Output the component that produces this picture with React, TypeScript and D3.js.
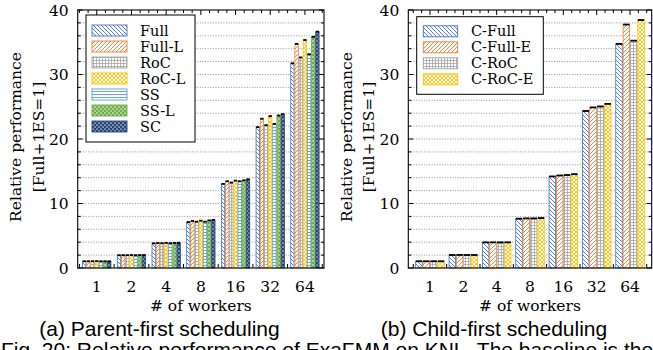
import * as d3 from "d3"

const workers = ["1", "2", "4", "8", "16", "32", "64"]

// (a) parent-first scheduling
const parentSeries = ["Full", "Full-L", "RoC", "RoC-L", "SS", "SS-L", "SC"]
const full = [1.0, 1.93, 3.78, 7.08, 13.0, 21.8, 31.7]
const fullL = [1.0, 1.95, 3.83, 7.24, 13.4, 23.1, 34.7]
const roc = [1.0, 1.94, 3.8, 7.13, 13.2, 22.1, 32.6]
const rocL = [1.02, 1.96, 3.84, 7.29, 13.5, 23.5, 35.3]
const ss = [1.0, 1.94, 3.8, 7.13, 13.4, 22.3, 33.1]
const ssL = [1.0, 1.96, 3.84, 7.33, 13.55, 23.6, 35.8]
const sc = [1.0, 1.97, 3.86, 7.4, 13.7, 23.8, 36.6]

// (b) child-first scheduling
const childSeries = ["C-Full", "C-Full-E", "C-RoC", "C-RoC-E"]
const cFull = [1.0, 1.97, 3.93, 7.6, 14.15, 24.3, 34.7]
const cFullE = [1.0, 1.98, 3.93, 7.65, 14.3, 24.85, 37.7]
const cRoc = [1.0, 1.97, 3.93, 7.65, 14.37, 25.0, 35.2]
const cRocE = [1.0, 1.97, 3.93, 7.7, 14.5, 25.4, 38.4]

const yMajor = [0, 10, 20, 30, 40]

const kinds: Record<string, { color: string; type: string }> = {
  full: { color: "#4472C4", type: "nw" },
  fullL: { color: "#ED7D31", type: "ne" },
  roc: { color: "#A5A5A5", type: "grid" },
  rocL: { color: "#FFC000", type: "cross" },
  ss: { color: "#5B9BD5", type: "hlines" },
  ssL: { color: "#70AD47", type: "dots" },
  sc: { color: "#264478", type: "ovals" },
}

const serif = "'DejaVu Serif', serif"
const sans = "'Liberation Sans', Arial, sans-serif"

function PatternDef({ name }: { name: string }) {
  const { color, type } = kinds[name]
  const id = `pat-${name}`
  if (type === "nw" || type === "ne" || type === "cross") {
    const nw = "M-1,-1L5,5M-1,3L1,5M3,-1L5,1"
    const ne = "M-1,5L5,-1M-1,1L1,-1M3,5L5,3"
    const d = type === "nw" ? nw : type === "ne" ? ne : nw + ne
    return (
      <pattern id={id} width={4} height={4} patternUnits="userSpaceOnUse">
        <rect width={4} height={4} fill="white" />
        <path d={d} stroke={color} strokeWidth={0.9} fill="none" />
      </pattern>
    )
  }
  if (type === "grid") {
    return (
      <pattern id={id} width={3} height={3} patternUnits="userSpaceOnUse">
        <rect width={3} height={3} fill="white" />
        <path d="M0,0.5H3M0.5,0V3" stroke={color} strokeWidth={0.8} fill="none" />
      </pattern>
    )
  }
  if (type === "hlines") {
    return (
      <pattern id={id} width={3} height={3} patternUnits="userSpaceOnUse">
        <rect width={3} height={3} fill="white" />
        <path d="M0,1.5H3" stroke={color} strokeWidth={0.9} fill="none" />
      </pattern>
    )
  }
  if (type === "dots") {
    return (
      <pattern id={id} width={4} height={4} patternUnits="userSpaceOnUse">
        <rect width={4} height={4} fill={color} />
        <circle cx={1} cy={1} r={0.8} fill="white" />
        <circle cx={3} cy={3} r={0.8} fill="white" />
      </pattern>
    )
  }
  return (
    <pattern id={id} width={4} height={4} patternUnits="userSpaceOnUse">
      <rect width={4} height={4} fill={color} />
      <ellipse cx={1} cy={1} rx={1} ry={0.55} fill="white" />
      <ellipse cx={3} cy={3} rx={1} ry={0.55} fill="white" />
    </pattern>
  )
}

interface PanelProps {
  left: number
  right: number
  pad: number
  spread: number
  series: string[]
  keys: string[]
  values: number[][]
  legend: { x: number; y: number; w: number; h: number; sx: number; sw: number; tx: number; row0: number }
  caption: string
  captionX: number
}

function Panel({ left, right, pad, spread, series, keys, values, legend, caption, captionX }: PanelProps) {
  const top = 10
  const bottom = 268
  const x = d3.scaleLinear().domain([-pad, workers.length - 1 + pad]).range([left, right])
  const y = d3.scaleLinear().domain([0, 40]).range([bottom, top])
  const step = x(1) - x(0)
  const inner = d3.scaleBand().domain(series).range([-step * spread, step * spread])
  const bw = inner.bandwidth()

  const yMinor = d3.range(0, 41, 2)
  const xMinor = d3.range(-2, (workers.length - 1) * 4 + 3).map((i) => i / 4)
  const xBounds = d3.range(-1, workers.length).map((i) => i + 0.5)
  const midY = 137

  return (
    <g>
      {/* grid */}
      {yMinor
        .filter((v) => v > 0 && v < 40)
        .map((v) => (
          <line key={"g" + v} x1={left} x2={right} y1={y(v)} y2={y(v)} stroke="#777" strokeWidth={0.8} strokeDasharray="1,1.6" />
        ))}

      {/* bars */}
      {series.map((s, si) =>
        values[si].map((v, gi) => {
          const bx = x(gi) + (inner(s) as number)
          return (
            <g key={s + gi}>
              <rect x={bx + 0.4} y={y(v)} width={bw - 0.8} height={bottom - y(v)} fill={`url(#pat-${keys[si]})`} stroke={kinds[keys[si]].color} strokeWidth={0.8} />
              <line x1={bx + 0.4} x2={bx + bw - 0.4} y1={y(v) - 0.3} y2={y(v) - 0.3} stroke="black" strokeWidth={1.8} />
            </g>
          )
        })
      )}

      {/* frame */}
      <rect x={left} y={top} width={right - left} height={bottom - top} fill="none" stroke="black" strokeWidth={1.1} />

      {/* y ticks both sides */}
      {yMinor.map((v) => {
        const len = v % 10 === 0 ? 5 : 3
        return (
          <g key={"yt" + v}>
            <line x1={left} x2={left + len} y1={y(v)} y2={y(v)} stroke="black" strokeWidth={1} />
            <line x1={right} x2={right - len} y1={y(v)} y2={y(v)} stroke="black" strokeWidth={1} />
          </g>
        )
      })}
      {yMajor.map((v) => (
        <text key={"yl" + v} x={left - 9} y={y(v) + 5.5} textAnchor="end" fontFamily={serif} fontSize={15.5}>
          {v}
        </text>
      ))}

      {/* top ticks */}
      {xMinor.map((v) => {
        const len = Number.isInteger(v) ? 5 : 3
        return <line key={"xt" + v} x1={x(v)} x2={x(v)} y1={top} y2={top + len} stroke="black" strokeWidth={1} />
      })}
      {/* bottom ticks between groups */}
      {xBounds.map((v) => (
        <line key={"xb" + v} x1={x(v)} x2={x(v)} y1={bottom} y2={bottom - 4} stroke="black" strokeWidth={1} />
      ))}
      {workers.map((w, i) => (
        <text key={"xl" + w} x={x(i)} y={291.5} textAnchor="middle" fontFamily={serif} fontSize={15.5}>
          {w}
        </text>
      ))}
      <text x={(left + right) / 2} y={311} textAnchor="middle" fontFamily={serif} fontSize={15.5}>
        # of workers
      </text>

      {/* y title */}
      <text transform={`translate(${left - 56.5},${midY}) rotate(-90)`} textAnchor="middle" fontFamily={serif} fontSize={15.5}>
        Relative performance
      </text>
      <text transform={`translate(${left - 34},${midY}) rotate(-90)`} textAnchor="middle" fontFamily={serif} fontSize={15.5}>
        [Full+1ES=1]
      </text>

      {/* legend */}
      <rect x={legend.x} y={legend.y} width={legend.w} height={legend.h} fill="white" stroke="black" strokeWidth={1} />
      {series.map((s, si) => {
        const cy = legend.row0 + si * 16
        return (
          <g key={"lg" + s}>
            <rect x={legend.sx} y={cy - 5.5} width={legend.sw} height={11} fill={`url(#pat-${keys[si]})`} stroke={kinds[keys[si]].color} strokeWidth={0.9} />
            <text x={legend.tx} y={cy + 5} fontFamily={serif} fontSize={14.5}>
              {s}
            </text>
          </g>
        )
      })}

      <text x={captionX} y={336} textAnchor="middle" fontFamily={sans} fontSize={21}>
        {caption}
      </text>
    </g>
  )
}

export default function App() {
  return (
    <svg width={653} height={350} style={{ position: "absolute", left: 0, top: 0, background: "white" }}>
      <defs>
        {Object.keys(kinds).map((k) => (
          <PatternDef key={k} name={k} />
        ))}
      </defs>
      <Panel
        left={77.7}
        right={324}
        pad={0.55}
        spread={0.42}
        series={parentSeries}
        keys={["full", "fullL", "roc", "rocL", "ss", "ssL", "sc"]}
        values={[full, fullL, roc, rocL, ss, ssL, sc]}
        legend={{ x: 86, y: 15, w: 109, h: 127, sx: 92, sw: 35, tx: 140, row0: 30.5 }}
        caption="(a) Parent-first scheduling"
        captionX={159.5}
      />
      <Panel
        left={408.3}
        right={651.7}
        pad={0.65}
        spread={0.44}
        series={childSeries}
        keys={["full", "fullL", "roc", "rocL"]}
        values={[cFull, cFullE, cRoc, cRocE]}
        legend={{ x: 416.7, y: 16.7, w: 126.6, h: 77.6, sx: 423.3, sw: 34.4, tx: 471, row0: 31.3 }}
        caption="(b) Child-first scheduling"
        captionX={494}
      />
      <text x={1} y={357} fontFamily={sans} fontSize={21}>
        Fig. 20: Relative performance of ExaFMM on KNL. The baseline is the
      </text>
    </svg>
  )
}
